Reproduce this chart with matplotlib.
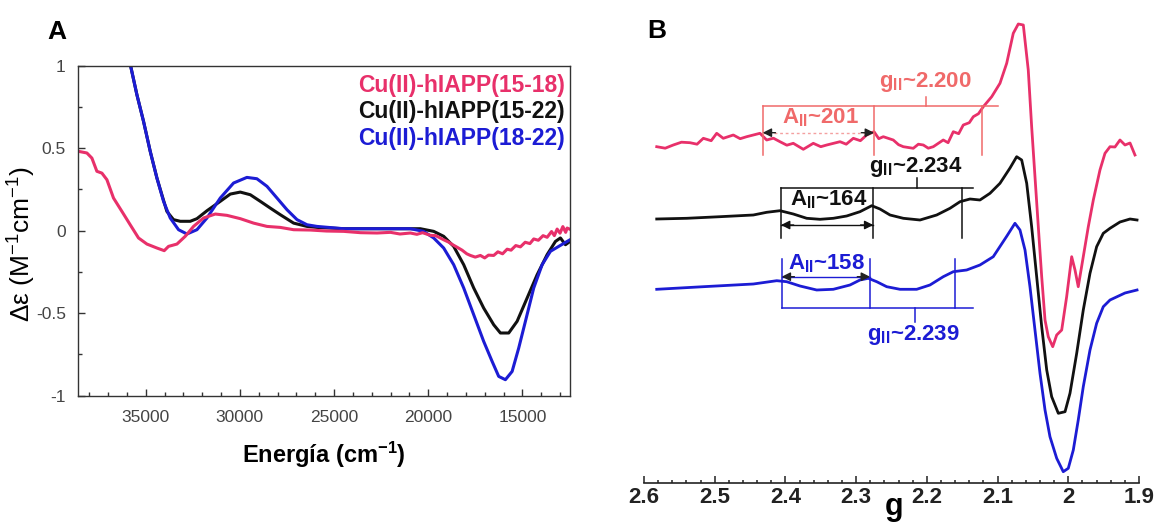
import matplotlib
matplotlib.use('Agg')
import matplotlib.pyplot as plt
from matplotlib.ticker import MultipleLocator, FuncFormatter

plt.rcParams['font.family'] = ['Liberation Sans', 'DejaVu Sans']
plt.rcParams['mathtext.fontset'] = 'custom'
plt.rcParams['mathtext.rm'] = 'Liberation Sans'
plt.rcParams['mathtext.it'] = 'Liberation Sans:italic'
plt.rcParams['mathtext.bf'] = 'Liberation Sans:bold'
plt.rcParams['axes.unicode_minus'] = False

# ---------------- Panel A : CD spectra ----------------
red_E = [38570, 38124, 37858, 37593, 37327, 37061, 36711, 36265, 35824, 35383, 34936, 34405,
         34017, 33789, 33342, 32901, 32462, 31929, 31307, 30686, 29979, 29273, 28561, 27854,
         27147, 26260, 25400, 24490, 23600, 22717, 22000, 21500, 20947, 20600, 20300, 19885,
         19600, 19178, 18900, 18700, 18467, 18200, 17950, 17759, 17500, 17228, 17000, 16800,
         16521, 16300, 16050, 15809, 15600, 15350, 15103, 14850, 14600, 14396, 14150, 13900,
         13684, 13450, 13300, 13153, 13000, 12850, 12700, 12622, 12500]
red_de = [0.481, 0.471, 0.440, 0.360, 0.349, 0.309, 0.198, 0.117, 0.036, -0.044, -0.081, -0.105,
          -0.121, -0.095, -0.081, -0.034, 0.026, 0.077, 0.101, 0.093, 0.073, 0.046, 0.026, 0.020,
          0.006, 0.004, -0.002, -0.004, -0.012, -0.014, -0.010, -0.020, -0.014, -0.022, -0.012, -0.028,
          -0.030, -0.055, -0.070, -0.085, -0.100, -0.118, -0.140, -0.150, -0.160, -0.150, -0.165, -0.148,
          -0.150, -0.128, -0.140, -0.112, -0.118, -0.090, -0.098, -0.070, -0.078, -0.050, -0.058, -0.030,
          -0.040, -0.005, -0.030, 0.010, -0.015, 0.025, -0.010, 0.016, 0.010]

black_E = [35900, 35468, 35117, 34761, 34405, 34142, 33877, 33523, 33168, 32636, 32280, 31748,
           31041, 30510, 29979, 29447, 28916, 28385, 27854, 27147, 26435, 25904, 24490, 22717,
           20416, 19709, 19178, 18647, 18115, 17584, 17053, 16521, 16165, 15724, 15278, 14747,
           14216, 13684, 13243, 12978, 12712, 12470]
black_de = [1.05, 0.824, 0.663, 0.481, 0.319, 0.218, 0.117, 0.067, 0.057, 0.057, 0.073, 0.121,
            0.178, 0.222, 0.234, 0.218, 0.178, 0.137, 0.097, 0.046, 0.026, 0.020, 0.012, 0.012,
            0.012, -0.004, -0.034, -0.095, -0.206, -0.347, -0.469, -0.570, -0.620, -0.620, -0.549, -0.408,
            -0.267, -0.145, -0.065, -0.044, -0.085, -0.065]

blue_E = [35900, 35468, 35117, 34761, 34405, 34054, 33698, 33257, 32811, 32280, 31748, 31041,
          30335, 29628, 29097, 28561, 28029, 27498, 26966, 26435, 25904, 24490, 22717, 20947,
          20240, 19709, 19178, 18647, 18115, 17584, 17053, 16606, 16256, 15900, 15544, 15193,
          14837, 14396, 13950, 13509, 13068, 12622, 12470]
blue_de = [1.05, 0.824, 0.663, 0.481, 0.319, 0.178, 0.077, 0.006, -0.020, 0.006, 0.077, 0.198,
           0.289, 0.323, 0.315, 0.269, 0.198, 0.127, 0.067, 0.036, 0.026, 0.012, 0.012, 0.012,
           -0.004, -0.044, -0.105, -0.206, -0.347, -0.509, -0.671, -0.792, -0.883, -0.903, -0.853, -0.711,
           -0.549, -0.347, -0.206, -0.125, -0.095, -0.065, -0.055]

legend_labels = ['Cu(II)-hIAPP(15-18)', 'Cu(II)-hIAPP(15-22)', 'Cu(II)-hIAPP(18-22)']

# ---------------- Panel B : EPR spectra ----------------
pink_g = [2.582, 2.570, 2.5586, 2.547, 2.5350, 2.525, 2.5161, 2.505, 2.4972, 2.4879, 2.4737, 2.4640,
          2.4548, 2.4360, 2.4265, 2.4170, 2.4077, 2.3980, 2.3889, 2.3747, 2.3606, 2.3500, 2.3416, 2.3228,
          2.3140, 2.3040, 2.2940, 2.2851, 2.2747, 2.2680, 2.2616, 2.2475, 2.2400, 2.2333, 2.2192, 2.2120,
          2.2050, 2.1980, 2.1909, 2.1768, 2.1700, 2.1626, 2.1550, 2.1485, 2.1400, 2.1343, 2.1270, 2.1202,
          2.1083, 2.0966, 2.0871, 2.0778, 2.0707, 2.0636, 2.0566, 2.0518, 2.0471, 2.0424, 2.0376, 2.0329,
          2.0283, 2.0220, 2.0164, 2.0093, 2.0023, 1.9952, 1.9905, 1.9859, 1.9788, 1.9717, 1.9646, 1.9552,
          1.9481, 1.9410, 1.9340, 1.9269, 1.9198, 1.9127, 1.9057]
pink_I = [0, -1.5, 1.7, 4.5, 4.0, 2.5, 8.4, 6.0, 13.4, 8.4, 11.7, 8.0,
          10, 13.4, 6.7, 8.5, 5, 1.5, 3.4, -2.6, 3.4, 0.0, 1.7, 5,
          2.5, 8.4, 6.0, 11.7, 15, 8.0, 10, 6.7, 2.0, 0, -1.6, 2.5,
          1.7, -1.5, 0, 6.7, 4.0, 15, 13.0, 21.7, 24.0, 30, 33.0, 40,
          50, 63.4, 83.4, 113.4, 122.7, 121.7, 76.7, 20, -30, -80, -130, -173.3,
          -190, -200, -188.3, -183.3, -150, -110, -123.3, -140, -110, -80, -53.3, -23.3,
          -6.6, 0, -0.3, 6.7, 1.7, 3.7, -8.3]

black_g = [2.582, 2.5396, 2.4925, 2.4454, 2.4265, 2.4077, 2.3889, 2.3699, 2.3511, 2.3323, 2.3134, 2.2946,
           2.2780, 2.2663, 2.2521, 2.2333, 2.2097, 2.1861, 2.1673, 2.1531, 2.1390, 2.1249, 2.1107, 2.0966,
           2.0824, 2.0730, 2.0659, 2.0588, 2.0518, 2.0447, 2.0376, 2.0305, 2.0235, 2.0141, 2.0046, 1.9976,
           1.9881, 1.9788, 1.9693, 1.9599, 1.9505, 1.9410, 1.9269, 1.9127, 1.9028]
black_I = [0, 0.7, 2.3, 4, 6.7, 8.3, 5, 0.7, -0.3, 0.7, 3, 7.3,
           13.3, 10, 4, 0.7, -1, 4, 10.7, 17.3, 20, 19, 25.7, 35.7,
           51, 62.3, 59, 35.7, -7.7, -57.7, -107.7, -151, -177.7, -194.3, -192.7, -174.3,
           -134.3, -91, -54.3, -27.7, -14.3, -9.3, -3, 0, -1]

blue_g = [2.582, 2.5161, 2.4454, 2.4123, 2.3982, 2.3794, 2.3558, 2.3323, 2.3087, 2.2946, 2.2828, 2.2709,
          2.2568, 2.2380, 2.2144, 2.1956, 2.1768, 2.1626, 2.1437, 2.1249, 2.1061, 2.0871, 2.0754, 2.0683,
          2.0612, 2.0542, 2.0471, 2.0400, 2.0329, 2.0259, 2.0164, 2.0071, 2.0000, 1.9929, 1.9859, 1.9788,
          1.9693, 1.9599, 1.9505, 1.9410, 1.9198, 1.9028]
blue_I = [0, 2.6, 5.3, 8.6, 7.6, 3.3, -0.7, 0, 4.3, 9.3, 11, 7.6,
          2.6, 0, 0, 4.3, 12.6, 17.6, 19.3, 24.3, 32.6, 53, 66, 59.3,
          39.3, 2.6, -40.7, -84, -120.7, -147.4, -169, -182.4, -179, -160.7, -130.7, -97.4,
          -60.7, -34, -17.4, -10.7, -3.7, -0.7]

trace_offsets = [336.3, 264.0, 193.7]   # vertical stacking of the EPR traces

# g-parallel / A-parallel marker positions (g values)
pink_marks = [2.4321, 2.2747, 2.1224]
black_marks = [2.4063, 2.2757, 2.1499]
blue_marks = [2.4053, 2.2804, 2.1602]
g_labels = ['~2.200', '~2.234', '~2.239']
A_labels = ['~201', '~164', '~158']

C_PINK = '#e8306a'
C_SALMON = '#f06a6a'
C_BLACK = '#111111'
C_BLUE = '#1c1cd4'

fig = plt.figure(figsize=(11.56, 5.23), dpi=100)

# ---------- Panel A ----------
axA = fig.add_axes([78.3 / 1156, (523 - 395.7) / 523, (570 - 78.3) / 1156, 330 / 523])
axA.plot(black_E, black_de, color=C_BLACK, lw=2.2, solid_joinstyle='round')
axA.plot(blue_E, blue_de, color=C_BLUE, lw=2.2, solid_joinstyle='round')
axA.plot(red_E, red_de, color=C_PINK, lw=2.2, solid_joinstyle='round')
axA.set_xlim(38580, 12470)
axA.set_ylim(-1, 1)
axA.xaxis.set_major_locator(MultipleLocator(5000))
axA.xaxis.set_minor_locator(MultipleLocator(1000))
axA.yaxis.set_major_locator(MultipleLocator(0.5))
axA.yaxis.set_minor_locator(MultipleLocator(0.25))
fmt = FuncFormatter(lambda v, p: '%g' % v)
axA.xaxis.set_major_formatter(fmt)
axA.yaxis.set_major_formatter(fmt)
axA.tick_params(which='both', direction='in', colors='#333333', labelcolor='#444444')
axA.tick_params(which='major', length=5, width=1)
axA.tick_params(which='minor', length=3, width=1)
axA.tick_params(axis='x', labelsize=12.5, pad=10)
axA.tick_params(axis='y', labelsize=12.5, pad=9)
for s in axA.spines.values():
    s.set_color('#333333')
    s.set_linewidth(1.0)

for lab, col, yy in zip(legend_labels, [C_PINK, C_BLACK, C_BLUE], [0.9415, 0.8612, 0.7809]):
    axA.text(0.9898, yy, lab, transform=axA.transAxes, ha='right', va='center',
             fontsize=16.5, fontweight='bold', color=col)

axA.set_xlabel('Energía (cm$^{\\mathbf{-1}}$)', fontsize=17, fontweight='bold')
axA.xaxis.set_label_coords(0.5, -0.134)
axA.set_ylabel('Δε (M$^{\\mathregular{-1}}$cm$^{\\mathregular{-1}}$)', fontsize=19)
axA.yaxis.set_label_coords(-0.082, 0.46)

fig.text(57 / 1156, 1 - 32 / 523, 'A', fontsize=19, fontweight='bold', ha='center', va='center')
fig.text(656.5 / 1156, 1 - 31 / 523, 'B', fontsize=19, fontweight='bold', ha='center', va='center')

# ---------- Panel B ----------
axB = fig.add_axes([644 / 1156, 40 / 523, 495 / 1156, 483 / 523])
for g, I, off, col in zip([pink_g, black_g, blue_g], [pink_I, black_I, blue_I],
                          trace_offsets, [C_PINK, C_BLACK, C_BLUE]):
    axB.plot(g, [v + off for v in I], color=col, lw=2.0, solid_joinstyle='round')
axB.set_xlim(2.6, 1.9)
axB.set_ylim(0, 483)
for k in ['left', 'right', 'top']:
    axB.spines[k].set_visible(False)
axB.spines['bottom'].set_linewidth(1.2)
axB.spines['bottom'].set_color('#222222')
axB.set_yticks([])
axB.xaxis.set_major_locator(MultipleLocator(0.1))
axB.xaxis.set_minor_locator(MultipleLocator(0.02))
axB.xaxis.set_major_formatter(FuncFormatter(lambda v, p: '%g' % round(v, 2)))
axB.tick_params(axis='x', which='both', direction='in', colors='#222222', width=1.1)
axB.tick_params(axis='x', which='major', length=5, labelsize=16, pad=3)
axB.tick_params(axis='x', which='minor', length=2.5)
for t in axB.get_xticklabels():
    t.set_fontweight('bold')
fig.text(894 / 1156, 1 - 514.5 / 523, 'g', fontsize=22, fontweight='bold', ha='center', va='baseline')

ann_fs = 16


def bracket(marks, bar_end, bar_h, tick_end, ctr_g, ctr_end, col):
    axB.plot([marks[0], bar_end], [bar_h, bar_h], color=col, lw=1.1)
    for m in marks:
        axB.plot([m, m], [bar_h, tick_end], color=col, lw=1.1)
    axB.plot([ctr_g, ctr_g], [bar_h, ctr_end], color=col, lw=1.1)


def arrow(g1, g2, h, line_col, head_col, ls='-'):
    axB.plot([g1, g2], [h, h], color=line_col, lw=1.0, ls=ls)
    for a, b in [(g1, g1 - 0.018), (g2, g2 + 0.018)]:
        axB.annotate('', xy=(a, h), xytext=(b, h),
                     arrowprops=dict(arrowstyle='-|>', color=head_col, lw=1.0,
                                     shrinkA=0, shrinkB=0, mutation_scale=13))


# pink (15-18)
bracket(pink_marks, 2.0990, 377, 328, 2.2012, 386.3, C_SALMON)
axB.text(2.2026, 401.3, 'g$_{\\mathbf{II}}$' + g_labels[0], color=C_SALMON, fontsize=ann_fs,
         fontweight='bold', ha='center', va='center')
axB.text(2.3497, 365, 'A$_{\\mathbf{II}}$' + A_labels[0], color=C_SALMON, fontsize=ann_fs,
         fontweight='bold', ha='center', va='center')
arrow(pink_marks[0], pink_marks[1], 350.3, '#f4a0a0', '#222222', ls=(0, (2, 2)))

# black (15-22)
bracket(black_marks, 2.1352, 295.3, 244.7, 2.2144, 304.7, C_BLACK)
axB.text(2.2157, 316, 'g$_{\\mathbf{II}}$' + g_labels[1], color=C_BLACK, fontsize=ann_fs,
         fontweight='bold', ha='center', va='center')
axB.text(2.3384, 283, 'A$_{\\mathbf{II}}$' + A_labels[1], color=C_BLACK, fontsize=ann_fs,
         fontweight='bold', ha='center', va='center')
arrow(black_marks[0], black_marks[1], 258, C_BLACK, C_BLACK)

# blue (18-22)
bracket(blue_marks, 2.1343, 174.7, 223.7, 2.2168, 161.3, C_BLUE)
axB.text(2.2192, 148, 'g$_{\\mathbf{II}}$' + g_labels[2], color=C_BLUE, fontsize=ann_fs,
         fontweight='bold', ha='center', va='center')
axB.text(2.3416, 219.7, 'A$_{\\mathbf{II}}$' + A_labels[2], color=C_BLUE, fontsize=ann_fs,
         fontweight='bold', ha='center', va='center')
arrow(blue_marks[0], blue_marks[1], 206.3, C_BLUE, '#222222')

fig.savefig('out.png', dpi=100)
